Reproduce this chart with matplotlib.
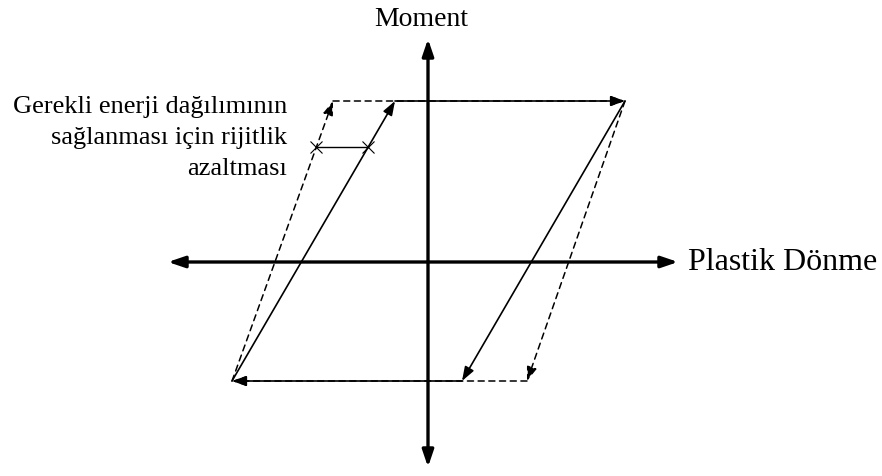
import matplotlib.pyplot as plt

# corner points of the hysteresis loops (origin at axis crossing)
solid_x = [-196, -33, 197, 34, -196]
solid_y = [-119, 161, 161, -119, -119]
dashed_x = [-196, -95, 197, 99, -196]
dashed_y = [-119, 161, 161, -119, -119]

# axis extents
x_axis = [-260, 250]
y_axis = [-205, 223]

# stiffness-reduction marker (between dashed and solid rising branches)
marker_x = [-112, -60]
marker_y = [115, 115]

label_text = "Gerekli enerji dağılımının\nsağlanması için rijitlik\nazaltması"

plt.rcParams['font.family'] = ['Liberation Serif', 'DejaVu Serif']

fig = plt.figure(figsize=(8.82, 4.77), dpi=100)
ax = fig.add_axes([0, 0, 1, 1])
ax.set_xlim(-428, 454)
ax.set_ylim(-214, 263)
ax.axis('off')


def arrow(x0, y0, x1, y1, lw=1.0, ls='-', hl=7.0, hw=2.5):
    style = '-|>,head_length=%.2f,head_width=%.2f' % (hl / 10, hw / 10)
    ax.annotate('', xy=(x1, y1), xytext=(x0, y0),
                arrowprops=dict(arrowstyle=style, color='black', lw=lw,
                                linestyle=ls, mutation_scale=10,
                                shrinkA=0, shrinkB=0))


# main axes, double headed
for end in [(x_axis[0], 0), (x_axis[1], 0), (0, y_axis[0]), (0, y_axis[1])]:
    arrow(0, 0, end[0], end[1], lw=2.4, hl=10, hw=3.4)

# dashed loop
for i in range(len(dashed_x) - 1):
    arrow(dashed_x[i], dashed_y[i], dashed_x[i + 1], dashed_y[i + 1],
          lw=1.1, ls=(0, (4, 3)), hl=8.5, hw=3.0)

# solid loop
for i in range(len(solid_x) - 1):
    arrow(solid_x[i], solid_y[i], solid_x[i + 1], solid_y[i + 1],
          lw=1.2, hl=8.5, hw=3.0)

# stiffness reduction marker
ax.plot(marker_x, marker_y, color='black', lw=1.0, marker='x',
        markersize=8, markeredgewidth=0.8)

ax.text(-7, 243, "Moment", ha='center', va='center', fontsize=20)
ax.text(260, 0, "Plastik Dönme", ha='left', va='center', fontsize=23)
ax.text(-141, 125, label_text, ha='right', va='center', fontsize=19,
        multialignment='right', linespacing=1.55)

fig.savefig("out.png", dpi=100)
